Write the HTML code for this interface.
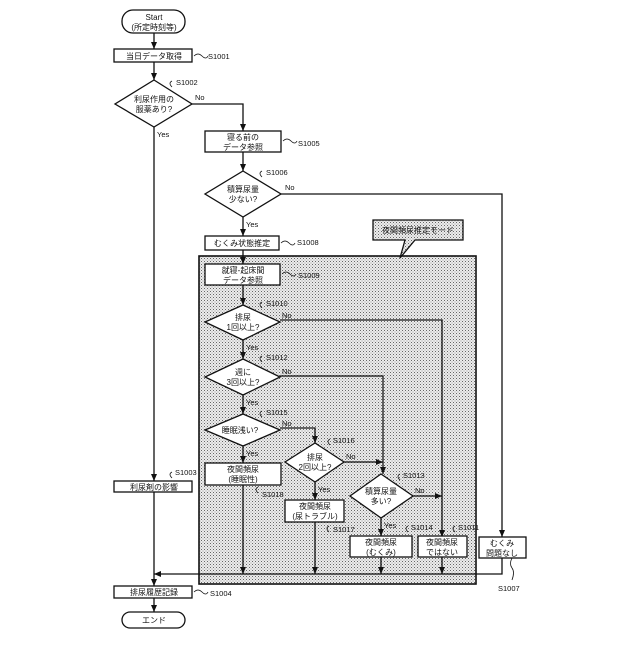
<!DOCTYPE html>
<html><head><meta charset="utf-8"><style>
body{margin:0;background:#fff}
svg text{font-family:"Liberation Sans","Noto Sans CJK JP",sans-serif;fill:#111}
</style></head><body>
<svg width="640" height="640" viewBox="0 0 640 640" xmlns="http://www.w3.org/2000/svg">
<defs>
<pattern id="dots" width="3" height="3" patternUnits="userSpaceOnUse">
<rect width="3" height="3" fill="#ececec"/><rect width="1" height="1" fill="#666"/><rect x="1.5" y="1.5" width="1" height="1" fill="#999"/>
</pattern>
<marker id="a" markerWidth="8" markerHeight="8" refX="7" refY="4" orient="auto" markerUnits="userSpaceOnUse"><path d="M0,1 L7,4 L0,7z" fill="#111"/></marker>
</defs>
<g stroke="#111" stroke-width="1.3" fill="none">
<rect x="199" y="256" width="277" height="328" fill="url(#dots)" stroke-width="1.6"/>
<path d="M373,220 H463 V240 H415 L400,258 L405,240 H373Z" fill="url(#dots)"/>
<rect x="122" y="10" width="63" height="23" rx="11" fill="#fff"/>
<rect x="114" y="49" width="78" height="13" fill="#fff"/>
<line x1="154" y1="33" x2="154" y2="49" marker-end="url(#a)"/>
<line x1="154" y1="62" x2="154" y2="80" marker-end="url(#a)"/>
<polygon points="154,80 192,104 154,127 115,104" fill="#fff"/>
<polyline points="192,104 243,104 243,131" marker-end="url(#a)"/>
<line x1="154" y1="127" x2="154" y2="481" marker-end="url(#a)"/>
<rect x="114" y="481" width="78" height="11" fill="#fff"/>
<line x1="154" y1="492" x2="154" y2="586" marker-end="url(#a)"/>
<rect x="205" y="131" width="76" height="21" fill="#fff"/>
<line x1="243" y1="152" x2="243" y2="171" marker-end="url(#a)"/>
<polygon points="243,171 281,194 243,217 205,194" fill="#fff"/>
<polyline points="281,194 502,194 502,537" marker-end="url(#a)"/>
<line x1="243" y1="217" x2="243" y2="236" marker-end="url(#a)"/>
<rect x="205" y="236" width="74" height="14" fill="#fff"/>
<line x1="243" y1="250" x2="243" y2="264" marker-end="url(#a)"/>
<rect x="205" y="264" width="75" height="21" fill="#fff"/>
<line x1="243" y1="285" x2="243" y2="305" marker-end="url(#a)"/>
<polygon points="243,305 280,322 243,340 205,322" fill="#fff"/>
<polyline points="280,320 442,320 442,537" marker-end="url(#a)"/>
<line x1="243" y1="340" x2="243" y2="359" marker-end="url(#a)"/>
<polygon points="243,359 280,377 243,395 205,377" fill="#fff"/>
<polyline points="280,376 383,376 383,474" marker-end="url(#a)"/>
<line x1="243" y1="395" x2="243" y2="414" marker-end="url(#a)"/>
<polygon points="243,414 280,430 243,446 205,430" fill="#fff"/>
<polyline points="280,428 315,428 315,443" marker-end="url(#a)"/>
<line x1="243" y1="446" x2="243" y2="463" marker-end="url(#a)"/>
<rect x="205" y="463" width="76" height="22" fill="#fff"/>
<line x1="243" y1="485" x2="243" y2="574" marker-end="url(#a)"/>
<polygon points="315,443 344,462 315,482 285,462" fill="#fff"/>
<line x1="344" y1="462" x2="383" y2="462" marker-end="url(#a)"/>
<line x1="315" y1="482" x2="315" y2="500" marker-end="url(#a)"/>
<rect x="285" y="500" width="59" height="22" fill="#fff"/>
<line x1="315" y1="522" x2="315" y2="574" marker-end="url(#a)"/>
<polygon points="381,474 413,496 381,518 350,496" fill="#fff"/>
<line x1="413" y1="496" x2="442" y2="496" marker-end="url(#a)"/>
<line x1="381" y1="518" x2="381" y2="536" marker-end="url(#a)"/>
<rect x="350" y="536" width="62" height="21" fill="#fff"/>
<line x1="381" y1="557" x2="381" y2="574" marker-end="url(#a)"/>
<rect x="418" y="536" width="49" height="21" fill="#fff"/>
<line x1="442" y1="557" x2="442" y2="574" marker-end="url(#a)"/>
<rect x="479" y="537" width="47" height="21" fill="#fff"/>
<polyline points="502,558 502,574 154,574" marker-end="url(#a)"/>
<rect x="114" y="586" width="78" height="12" fill="#fff"/>
<line x1="154" y1="598" x2="154" y2="612" marker-end="url(#a)"/>
<rect x="122" y="612" width="63" height="16" rx="8" fill="#fff"/>
<g stroke-width="0.8">
<path d="M194,56 q4,-4 8,0 t6,0"/><path d="M283,141 q4,-4 8,0 t6,0"/><path d="M281,243 q4,-4 8,0 t6,0"/>
<path d="M282,274 q4,-4 8,0 t6,0"/><path d="M194,592 q4,-4 8,0 t6,0"/>
<path d="M172,87 q-4,-4 0,-6"/><path d="M262,177 q-4,-4 0,-6"/><path d="M262,308 q-4,-4 0,-6"/>
<path d="M262,362 q-4,-4 0,-6"/><path d="M262,417 q-4,-4 0,-6"/><path d="M330,445 q-4,-4 0,-6"/>
<path d="M400,480 q-4,-4 0,-6"/><path d="M172,478 q-4,-4 0,-6"/><path d="M258,493 q-4,-4 0,-6"/>
<path d="M329,532 q-4,-4 0,-6"/><path d="M408,532 q-4,-4 0,-6"/><path d="M455,532 q-4,-4 0,-6"/>
<path d="M512,558 q-3,6 0,10 t0,12"/>
</g>
</g>
<g font-size="8" text-anchor="middle">
<text x="154" y="20">Start</text><text x="154" y="30">(所定時刻等)</text>
<text x="154" y="59">当日データ取得</text>
<text x="154" y="102">利尿作用の</text><text x="154" y="112">服薬あり?</text>
<text x="243" y="140">寝る前の</text><text x="243" y="150">データ参照</text>
<text x="243" y="192">積算尿量</text><text x="243" y="202">少ない?</text>
<text x="242" y="246">むくみ状態推定</text>
<text x="418" y="233">夜間頻尿推定モード</text>
<text x="243" y="273">就寝-起床間</text><text x="243" y="283">データ参照</text>
<text x="243" y="320">排尿</text><text x="243" y="330">1回以上?</text>
<text x="243" y="375">週に</text><text x="243" y="385">3回以上?</text>
<text x="240" y="433">睡眠浅い?</text>
<text x="315" y="460">排尿</text><text x="315" y="470">2回以上?</text>
<text x="381" y="494">積算尿量</text><text x="381" y="504">多い?</text>
<text x="243" y="472">夜間頻尿</text><text x="243" y="482">(睡眠性)</text>
<text x="315" y="509">夜間頻尿</text><text x="315" y="519">(尿トラブル)</text>
<text x="381" y="545">夜間頻尿</text><text x="381" y="555">(むくみ)</text>
<text x="442" y="545">夜間頻尿</text><text x="442" y="555">ではない</text>
<text x="502" y="546">むくみ</text><text x="502" y="556">問題なし</text>
<text x="154" y="490">利尿剤の影響</text>
<text x="154" y="595">排尿履歴記録</text>
<text x="154" y="623">エンド</text>
</g>
<g font-size="7.5">
<text x="208" y="59">S1001</text><text x="176" y="85">S1002</text><text x="298" y="146">S1005</text>
<text x="266" y="175">S1006</text><text x="297" y="245">S1008</text><text x="298" y="278">S1009</text>
<text x="266" y="306">S1010</text><text x="266" y="360">S1012</text><text x="266" y="415">S1015</text>
<text x="333" y="443">S1016</text><text x="403" y="478">S1013</text><text x="175" y="475">S1003</text>
<text x="262" y="497">S1018</text><text x="333" y="532">S1017</text><text x="411" y="530">S1014</text>
<text x="458" y="530">S1011</text><text x="498" y="591">S1007</text><text x="210" y="596">S1004</text>
<text x="195" y="100">No</text><text x="285" y="190">No</text><text x="282" y="318">No</text>
<text x="282" y="374">No</text><text x="282" y="426">No</text><text x="346" y="459">No</text>
<text x="415" y="493">No</text>
<text x="157" y="137">Yes</text><text x="246" y="227">Yes</text><text x="246" y="350">Yes</text>
<text x="246" y="405">Yes</text><text x="246" y="456">Yes</text><text x="318" y="492">Yes</text>
<text x="384" y="528">Yes</text>
</g>
</svg>
</body></html>
